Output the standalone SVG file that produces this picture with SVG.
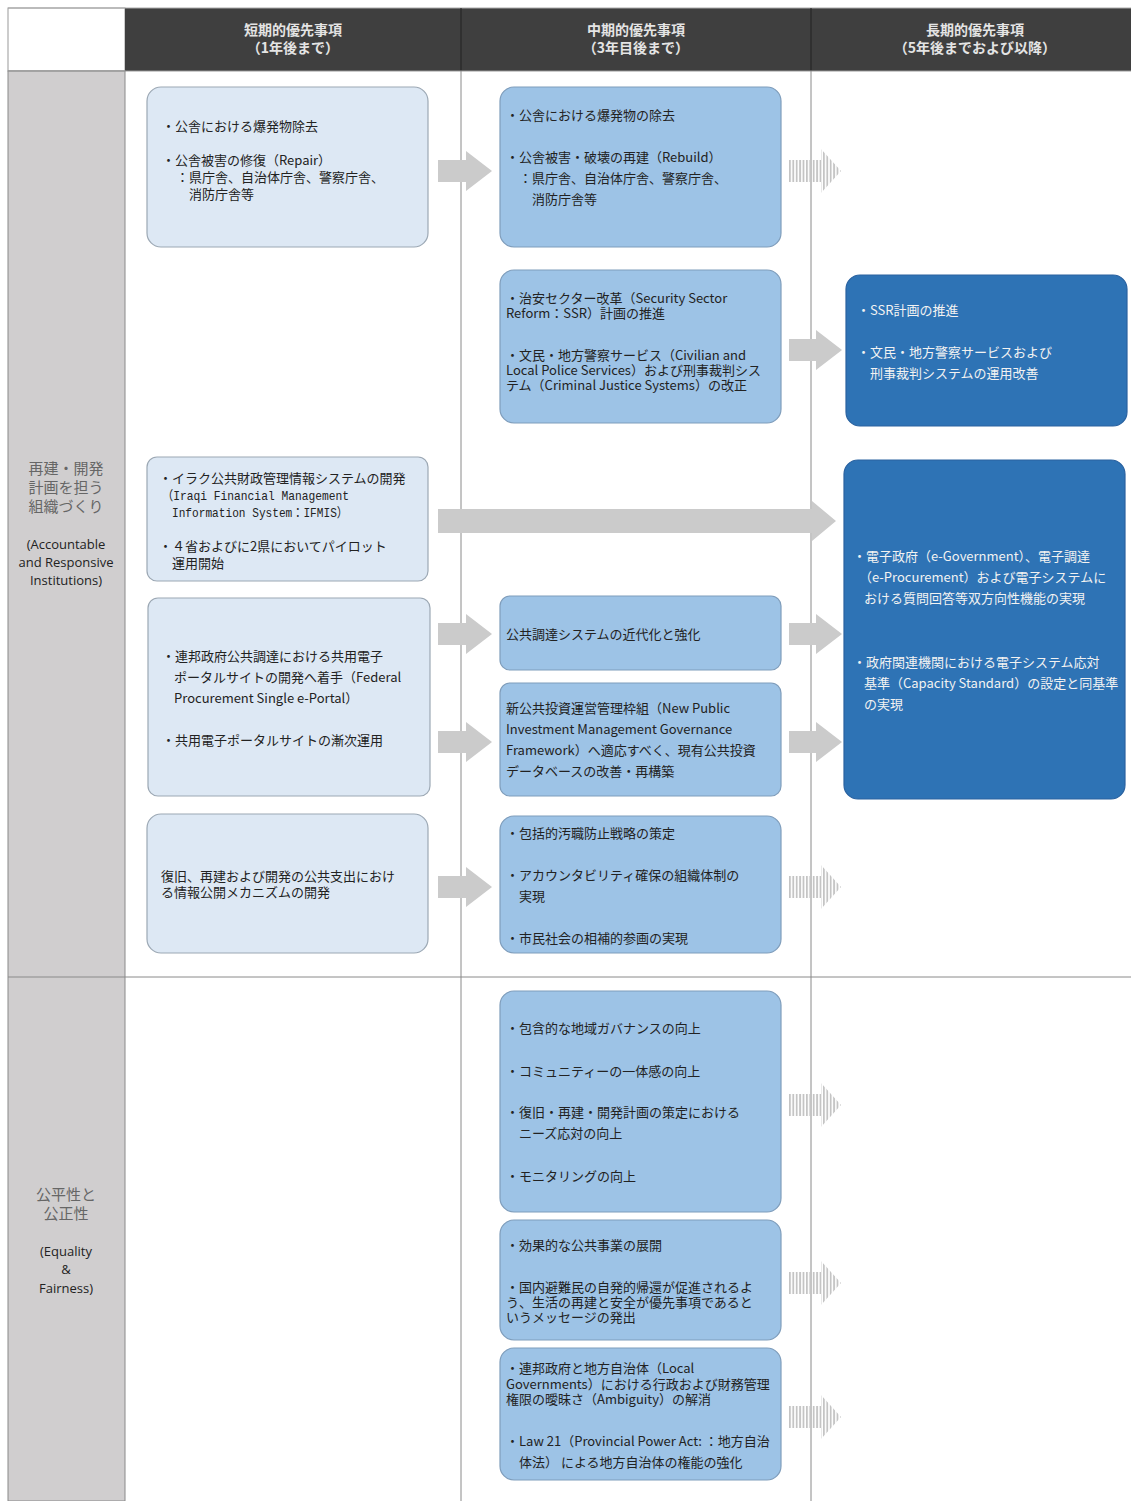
<svg xmlns="http://www.w3.org/2000/svg" width="1131" height="1501" viewBox="0 0 1131 1501">
<style>
text{font-family:"Noto Sans CJK JP","Noto Sans",sans-serif;}
.t{font-size:13px;fill:#222;}
.tw{font-size:13px;fill:#f2f2f2;}
.hd{font-size:14px;font-weight:bold;fill:#e4e4e4;text-anchor:middle;}
.lj{font-size:15px;fill:#666;text-anchor:middle;}
.le{font-size:13px;fill:#222;text-anchor:middle;font-family:"Open Sans","Noto Sans",sans-serif;}
.mono{font-family:"Liberation Mono","DejaVu Sans Mono","Noto Sans CJK JP",monospace;font-size:13px;fill:#222;}
.b1{fill:#dde8f4;stroke:#9ca8b4;stroke-width:1.2;}
.b2{fill:#9dc3e6;stroke:#7f9dbb;stroke-width:1.2;}
.b3{fill:#2e73b5;stroke:#2a62a0;stroke-width:1.2;}
.arr{fill:#cbcbcb;}
.sarr{fill:url(#stripes);}
.div{stroke:#8a8a8a;stroke-width:1;}
</style>
<defs>
<pattern id="stripes" x="789" y="0" width="3.4" height="10" patternUnits="userSpaceOnUse">
<rect x="0" y="0" width="1.8" height="10" fill="#c4c4c4"/>
</pattern>
</defs>
<rect x="0" y="0" width="1131" height="1501" fill="#ffffff"/>

<g id="header">
<rect x="8" y="8" width="117" height="63" fill="#ffffff" stroke="#999" stroke-width="1"/>
<rect x="125" y="8" width="1006" height="63" fill="#3f3f3f"/>
<line x1="8" y1="8" x2="1131" y2="8" stroke="#aaa" stroke-width="1"/>
<line x1="461" y1="8" x2="461" y2="71" stroke="#222" stroke-width="1"/>
<line x1="811" y1="8" x2="811" y2="71" stroke="#222" stroke-width="1"/>
<text class="hd" x="293" y="35">短期的優先事項</text>
<text class="hd" x="293" y="53">（1年後まで）</text>
<text class="hd" x="636" y="35">中期的優先事項</text>
<text class="hd" x="636" y="53">（3年目後まで）</text>
<text class="hd" x="975" y="35">長期的優先事項</text>
<text class="hd" x="975" y="53">（5年後までおよび以降）</text>
</g>

<g id="row-labels">
<rect x="8" y="71" width="117" height="1430" fill="#d0cecf" stroke="#8a8a8a" stroke-width="1"/>
<line x1="8" y1="71" x2="1131" y2="71" stroke="#999" stroke-width="1"/>
<line x1="8" y1="977" x2="1131" y2="977" stroke="#8a8a8a" stroke-width="1"/>
<line class="div" x1="461" y1="71" x2="461" y2="1501"/>
<line class="div" x1="811" y1="71" x2="811" y2="1501"/>
<g id="label-institutions">
<text class="lj" x="66" y="474">再建・開発</text>
<text class="lj" x="66" y="493">計画を担う</text>
<text class="lj" x="66" y="512">組織づくり</text>
<text class="le" x="66" y="549">(Accountable</text>
<text class="le" x="66" y="567">and Responsive</text>
<text class="le" x="66" y="585">Institutions)</text>
</g>
<g id="label-equality">
<text class="lj" x="66" y="1200">公平性と</text>
<text class="lj" x="66" y="1219">公正性</text>
<text class="le" x="66" y="1256">(Equality</text>
<text class="le" x="66" y="1274">&amp;</text>
<text class="le" x="66" y="1293">Fairness)</text>
</g>
</g>

<g id="connectors">
<polygon class="arr" points="438,160 466,160 466,151 492,171 466,191 466,182 438,182"/>
<polygon class="arr" points="789,339 816,339 816,330 842,350 816,370 816,361 789,361"/>
<polygon class="arr" points="438,509 812,509 812,501 836,521 812,541 812,533 438,533"/>
<polygon class="arr" points="438,623 466,623 466,614 492,634 466,654 466,645 438,645"/>
<polygon class="arr" points="789,623 816,623 816,614 842,634 816,654 816,645 789,645"/>
<polygon class="arr" points="438,731 466,731 466,722 492,742 466,762 466,753 438,753"/>
<polygon class="arr" points="789,731 816,731 816,722 842,742 816,762 816,753 789,753"/>
<polygon class="arr" points="438,876 466,876 466,867 492,887 466,907 466,898 438,898"/>
<polygon class="sarr" points="789,160 821,160 821,149 841,171 821,193 821,182 789,182"/>
<polygon class="sarr" points="789,876 821,876 821,865 841,887 821,909 821,898 789,898"/>
<polygon class="sarr" points="789,1094 821,1094 821,1083 841,1105 821,1127 821,1116 789,1116"/>
<polygon class="sarr" points="789,1272 821,1272 821,1261 841,1283 821,1305 821,1294 789,1294"/>
<polygon class="sarr" points="789,1406 821,1406 821,1395 841,1417 821,1439 821,1428 789,1428"/>
</g>

<g id="n1">
<rect class="b1" x="147" y="87" width="281" height="160" rx="14"/>
<text class="t" x="162" y="131">・公舎における爆発物除去</text>
<text class="t" x="162" y="165">・公舎被害の修復（Repair）</text>
<text class="t" x="176" y="182">：県庁舎、自治体庁舎、警察庁舎、</text>
<text class="t" x="189" y="199">消防庁舎等</text>
</g>

<g id="n2">
<rect class="b2" x="500" y="87" width="281" height="160" rx="14"/>
<text class="t" x="506" y="120">・公舎における爆発物の除去</text>
<text class="t" x="506" y="162">・公舎被害・破壊の再建（Rebuild）</text>
<text class="t" x="519" y="183">：県庁舎、自治体庁舎、警察庁舎、</text>
<text class="t" x="532" y="204">消防庁舎等</text>
</g>

<g id="n3">
<rect class="b2" x="500" y="270" width="281" height="153" rx="14"/>
<text class="t" x="506" y="303">・治安セクター改革（Security Sector</text>
<text class="t" x="506" y="318">Reform：SSR）計画の推進</text>
<text class="t" x="506" y="360">・文民・地方警察サービス（Civilian and</text>
<text class="t" x="506" y="375">Local Police Services）および刑事裁判シス</text>
<text class="t" x="506" y="390">テム（Criminal Justice Systems）の改正</text>
</g>

<g id="n4">
<rect class="b3" x="846" y="275" width="281" height="151" rx="14"/>
<text class="tw" x="857" y="315">・SSR計画の推進</text>
<text class="tw" x="857" y="357">・文民・地方警察サービスおよび</text>
<text class="tw" x="870" y="378">刑事裁判システムの運用改善</text>
</g>

<g id="n5">
<rect class="b1" x="147" y="457" width="281" height="124" rx="10"/>
<text class="t" x="159" y="483">・イラク公共財政管理情報システムの開発</text>
<text class="mono" x="162" y="500" textLength="187" lengthAdjust="spacingAndGlyphs">（Iraqi Financial Management</text>
<text class="mono" x="172" y="517" textLength="176" lengthAdjust="spacingAndGlyphs">Information System：IFMIS）</text>
<text class="t" x="159" y="551">・４省およびに2県においてパイロット</text>
<text class="t" x="172" y="568">運用開始</text>
</g>

<g id="n6">
<rect class="b3" x="844" y="460" width="281" height="339" rx="14"/>
<text class="tw" x="853" y="561">・電子政府（e-Government）、電子調達</text>
<text class="tw" x="859" y="582">（e-Procurement）および電子システムに</text>
<text class="tw" x="864" y="603">おける質問回答等双方向性機能の実現</text>
<text class="tw" x="853" y="667">・政府関連機関における電子システム応対</text>
<text class="tw" x="864" y="688">基準（Capacity Standard）の設定と同基準</text>
<text class="tw" x="864" y="709">の実現</text>
</g>

<g id="n7">
<rect class="b1" x="148" y="598" width="282" height="198" rx="10"/>
<text class="t" x="162" y="661">・連邦政府公共調達における共用電子</text>
<text class="t" x="174" y="682">ポータルサイトの開発へ着手（Federal</text>
<text class="t" x="174" y="703">Procurement Single e-Portal）</text>
<text class="t" x="162" y="745">・共用電子ポータルサイトの漸次運用</text>
</g>

<g id="n8">
<rect class="b2" x="500" y="596" width="281" height="74" rx="10"/>
<text class="t" x="506" y="639">公共調達システムの近代化と強化</text>
</g>

<g id="n9">
<rect class="b2" x="500" y="683" width="281" height="113" rx="10"/>
<text class="t" x="506" y="713">新公共投資運営管理枠組（New Public</text>
<text class="t" x="506" y="734">Investment Management Governance</text>
<text class="t" x="506" y="755">Framework）へ適応すべく、現有公共投資</text>
<text class="t" x="506" y="776">データベースの改善・再構築</text>
</g>

<g id="n10">
<rect class="b1" x="147" y="814" width="281" height="139" rx="14"/>
<text class="t" x="161" y="881">復旧、再建および開発の公共支出におけ</text>
<text class="t" x="161" y="897">る情報公開メカニズムの開発</text>
</g>

<g id="n11">
<rect class="b2" x="500" y="816" width="281" height="137" rx="14"/>
<text class="t" x="506" y="838">・包括的汚職防止戦略の策定</text>
<text class="t" x="506" y="880">・アカウンタビリティ確保の組織体制の</text>
<text class="t" x="519" y="901">実現</text>
<text class="t" x="506" y="943">・市民社会の相補的参画の実現</text>
</g>

<g id="n12">
<rect class="b2" x="500" y="991" width="281" height="221" rx="14"/>
<text class="t" x="506" y="1033">・包含的な地域ガバナンスの向上</text>
<text class="t" x="506" y="1076">・コミュニティーの一体感の向上</text>
<text class="t" x="506" y="1117">・復旧・再建・開発計画の策定における</text>
<text class="t" x="519" y="1138">ニーズ応対の向上</text>
<text class="t" x="506" y="1181">・モニタリングの向上</text>
</g>

<g id="n13">
<rect class="b2" x="500" y="1220" width="281" height="120" rx="14"/>
<text class="t" x="506" y="1250">・効果的な公共事業の展開</text>
<text class="t" x="506" y="1292">・国内避難民の自発的帰還が促進されるよ</text>
<text class="t" x="506" y="1307">う、生活の再建と安全が優先事項であると</text>
<text class="t" x="506" y="1322">いうメッセージの発出</text>
</g>

<g id="n14">
<rect class="b2" x="500" y="1348" width="281" height="132" rx="14"/>
<text class="t" x="506" y="1373">・連邦政府と地方自治体（Local</text>
<text class="t" x="506" y="1389">Governments）における行政および財務管理</text>
<text class="t" x="506" y="1404">権限の曖昧さ（Ambiguity）の解消</text>
<text class="t" x="506" y="1446">・Law 21（Provincial Power Act: ：地方自治</text>
<text class="t" x="519" y="1467">体法） による地方自治体の権能の強化</text>
</g>
</svg>
